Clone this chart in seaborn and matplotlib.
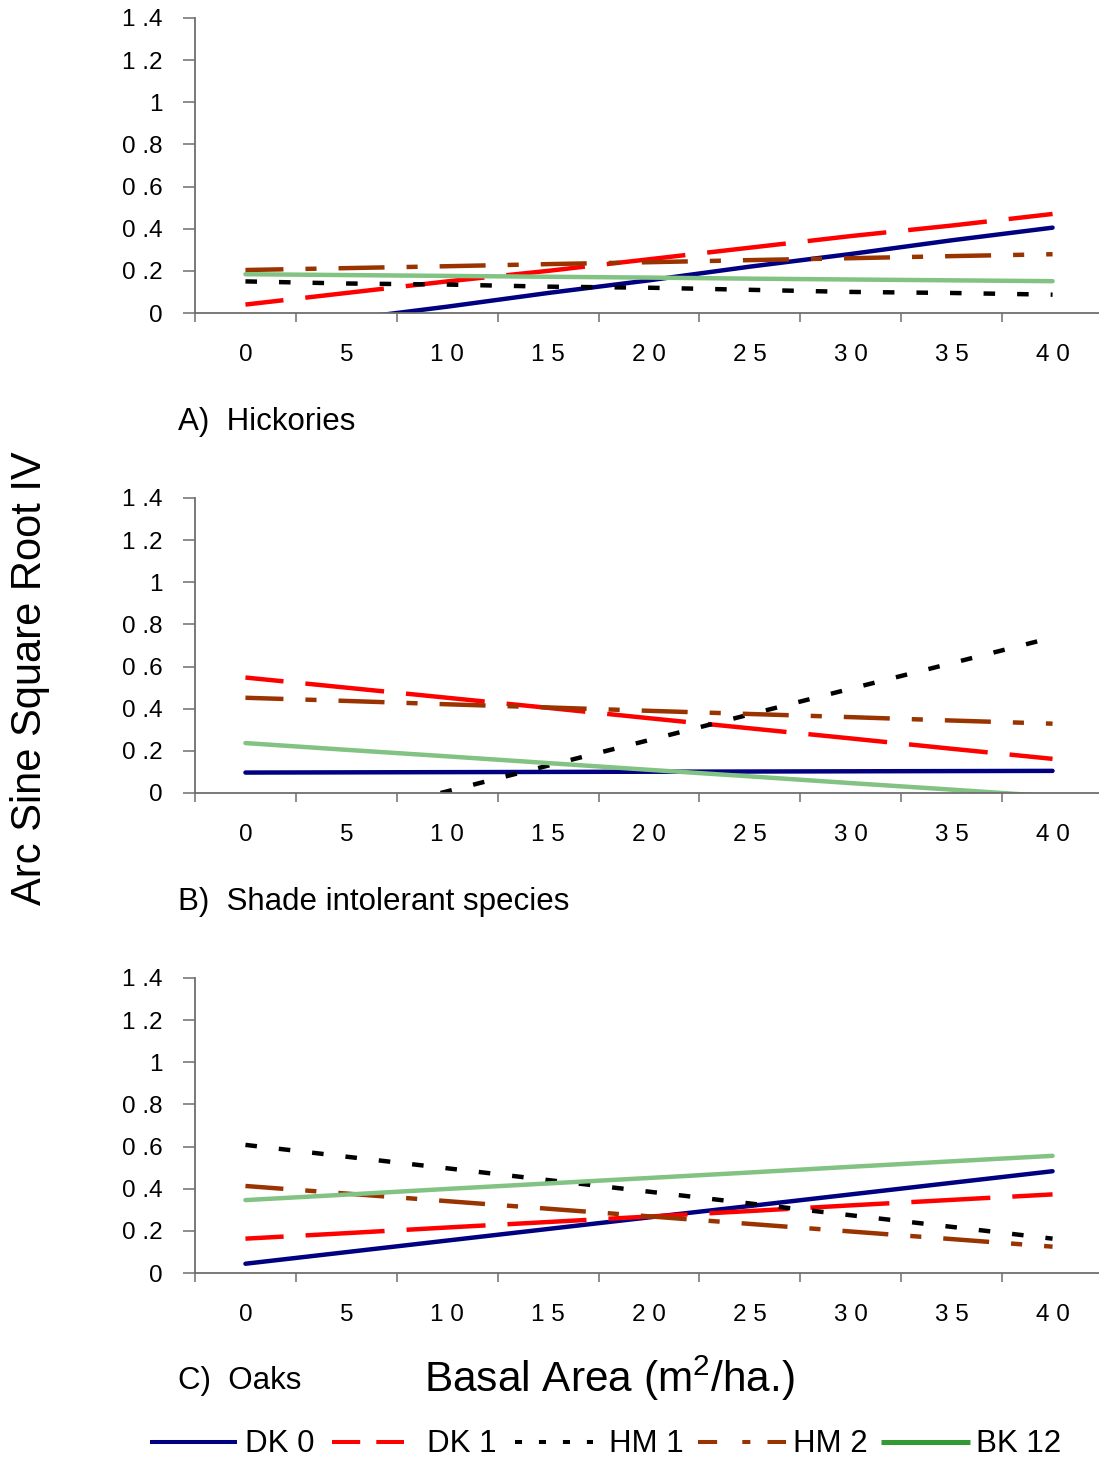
import numpy as np
import pandas as pd
import matplotlib
matplotlib.use("Agg")
import matplotlib.pyplot as plt
from matplotlib.lines import Line2D
import seaborn as sns

# ---- data -------------------------------------------------------------
basal_area = [0, 5, 10, 15, 20, 25, 30, 35, 40]
x_tick_labels = ["0", "5", "1 0", "1 5", "2 0", "2 5", "3 0", "3 5", "4 0"]
y_ticks = [0, 0.2, 0.4, 0.6, 0.8, 1.0, 1.2, 1.4]
y_tick_labels = ["0", "0 .2", "0 .4", "0 .6", "0 .8", "1", "1 .2", "1 .4"]
series_names = ["DK 0", "DK 1", "HM 1", "HM 2", "BK 12"]
panel_titles = ["A)  Hickories", "B)  Shade intolerant species", "C)  Oaks"]

# A) Hickories
hick_dk0 = [-0.095, -0.03, 0.03, 0.095, 0.155, 0.22, 0.28, 0.345, 0.405]
hick_dk1 = [0.04, 0.095, 0.15, 0.20, 0.255, 0.31, 0.365, 0.415, 0.47]
hick_hm1 = [0.15, 0.14, 0.135, 0.125, 0.12, 0.11, 0.10, 0.095, 0.087]
hick_hm2 = [0.204, 0.213, 0.222, 0.232, 0.241, 0.251, 0.26, 0.27, 0.279]
hick_bk12 = [0.184, 0.18, 0.176, 0.172, 0.168, 0.163, 0.159, 0.155, 0.151]

# B) Shade intolerant species
shade_dk0 = [0.097, 0.098, 0.099, 0.100, 0.101, 0.102, 0.103, 0.104, 0.105]
shade_dk1 = [0.548, 0.50, 0.452, 0.404, 0.355, 0.307, 0.259, 0.21, 0.162]
shade_hm1 = [-0.235, -0.113, 0.008, 0.13, 0.251, 0.373, 0.495, 0.616, 0.738]
shade_hm2 = [0.452, 0.437, 0.421, 0.406, 0.39, 0.375, 0.36, 0.344, 0.329]
shade_bk12 = [0.237, 0.205, 0.174, 0.142, 0.110, 0.079, 0.047, 0.016, -0.016]

# C) Oaks
oak_dk0 = [0.044, 0.099, 0.154, 0.209, 0.264, 0.318, 0.373, 0.428, 0.483]
oak_dk1 = [0.163, 0.189, 0.216, 0.242, 0.268, 0.294, 0.321, 0.347, 0.373]
oak_hm1 = [0.608, 0.552, 0.497, 0.441, 0.386, 0.330, 0.274, 0.219, 0.163]
oak_hm2 = [0.413, 0.377, 0.341, 0.305, 0.269, 0.233, 0.197, 0.161, 0.125]
oak_bk12 = [0.346, 0.372, 0.399, 0.425, 0.451, 0.477, 0.504, 0.530, 0.556]

panels = [
    [hick_dk0, hick_dk1, hick_hm1, hick_hm2, hick_bk12],
    [shade_dk0, shade_dk1, shade_hm1, shade_hm2, shade_bk12],
    [oak_dk0, oak_dk1, oak_hm1, oak_hm2, oak_bk12],
]

# ---- styling ------------------------------------------------------------
sns.set_theme(style="white")
plt.rcParams["font.family"] = ["Liberation Sans", "DejaVu Sans"]
plt.rcParams["text.color"] = "black"
plt.rcParams["axes.labelcolor"] = "black"
plt.rcParams["xtick.color"] = "black"
plt.rcParams["ytick.color"] = "black"
plt.rcParams["mathtext.fontset"] = "custom"
plt.rcParams["mathtext.rm"] = "Liberation Sans"
plt.rcParams["mathtext.it"] = "Liberation Sans:italic"
plt.rcParams["mathtext.bf"] = "Liberation Sans:bold"

colors = {"DK 0": "#000080", "DK 1": "#FF0000", "HM 1": "#000000",
          "HM 2": "#993300", "BK 12": "#82C282"}
line_width = 3.2
# dash patterns in units of line width
line_styles = {
    "DK 0": "-",
    "DK 1": (9.2, (17.8, 4.95)),
    "HM 1": (0.0, (2.6, 4.95)),
    "HM 2": (1.8, (10.35, 4.95, 2.5, 4.95)),
    "BK 12": "-",
}
axis_grey = "#6e6e6e"
tick_font = 17.5

W, H = 1099, 1462
fig = plt.figure(figsize=(W / 100, H / 100), dpi=100)

panel_tops = [18, 498, 978]
panel_bottoms = [313, 793, 1273]
title_y = [422, 902, 1381]
boundaries = np.arange(-2.5, 45, 5)

for top, bottom, values, title, ty in zip(panel_tops, panel_bottoms, panels,
                                          panel_titles, title_y):
    ax = fig.add_axes([195 / W, 1 - bottom / H, 908 / W, (bottom - top) / H])
    for name, vals in zip(series_names, values):
        df = pd.DataFrame({"Basal area": basal_area, "IV": vals})
        sns.lineplot(data=df, x="Basal area", y="IV", color=colors[name],
                     linewidth=line_width, errorbar=None, ax=ax)
        ln = ax.lines[-1]
        ln.set_linestyle(line_styles[name])
        ln.set_solid_capstyle("round")
        ln.set_dash_capstyle("butt")
    ax.set_xlim(-2.5, 42.5)
    ax.set_ylim(0, 1.4)
    ax.set_xlabel("")
    ax.set_ylabel("")
    for s in ["top", "right"]:
        ax.spines[s].set_visible(False)
    for s in ["left", "bottom"]:
        ax.spines[s].set_color(axis_grey)
        ax.spines[s].set_linewidth(1.3)
    ax.set_yticks(y_ticks)
    ax.set_yticklabels(y_tick_labels)
    ax.set_xticks(boundaries)
    ax.set_xticks(basal_area, minor=True)
    ax.set_xticklabels(x_tick_labels, minor=True)
    ax.tick_params(axis="x", which="major", labelbottom=False, length=6.5,
                   width=1.1, color=axis_grey, direction="out", bottom=True)
    ax.tick_params(axis="x", which="minor", length=0, pad=22,
                   labelsize=tick_font, labelcolor="black", bottom=True)
    ax.tick_params(axis="y", length=8.6, width=1.1, color=axis_grey,
                   direction="out", pad=14.5, labelsize=tick_font,
                   labelcolor="black", left=True)
    ax.patch.set_visible(False)
    fig.text(178 / W, 1 - ty / H, title, ha="left", va="center",
             fontsize=22.5, color="black")

fig.text(30 / W, 1 - 678 / H, "Arc Sine Square Root IV", rotation=90,
         ha="center", va="center", fontsize=30, color="black")
fig.text(609 / W, 1 - 1378 / H, "Basal Area (m$^{2}$/ha.)", ha="center",
         va="center", fontsize=30.5, color="black")

# ---- legend row ---------------------------------------------------------
legend_y = 1 - 1442 / H
text_y = 1 - 1444 / H
legend_entries = [
    ("DK 0", 150, 237, 245, dict(color="#000080", lw=2.9, linestyle="-")),
    ("DK 1", 332, 404, 427, dict(color="#FF0000", lw=2.9, linestyle=(0, (7, 4)))),
    ("HM 1", 515, 593, 609, dict(color="#000000", lw=2.9,
                                 linestyle=(0, (1.75, 4.2)))),
    ("HM 2", 698, 786, 793, dict(color="#993300", lw=2.9,
                                 linestyle=(0, (4.75, 6.25, 2, 4.25)))),
    ("BK 12", 881, 970, 976, dict(color="#339933", lw=3.6, linestyle="-")),
]
for label, x0, x1, tx, style in legend_entries:
    handle = Line2D([x0 / W, x1 / W], [legend_y, legend_y],
                    transform=fig.transFigure, solid_capstyle="butt",
                    dash_capstyle="butt", **style)
    fig.add_artist(handle)
    fig.text(tx / W, text_y, label, ha="left", va="center", fontsize=22.5,
             color="black")

fig.savefig("out.png", dpi=100, facecolor="white")
